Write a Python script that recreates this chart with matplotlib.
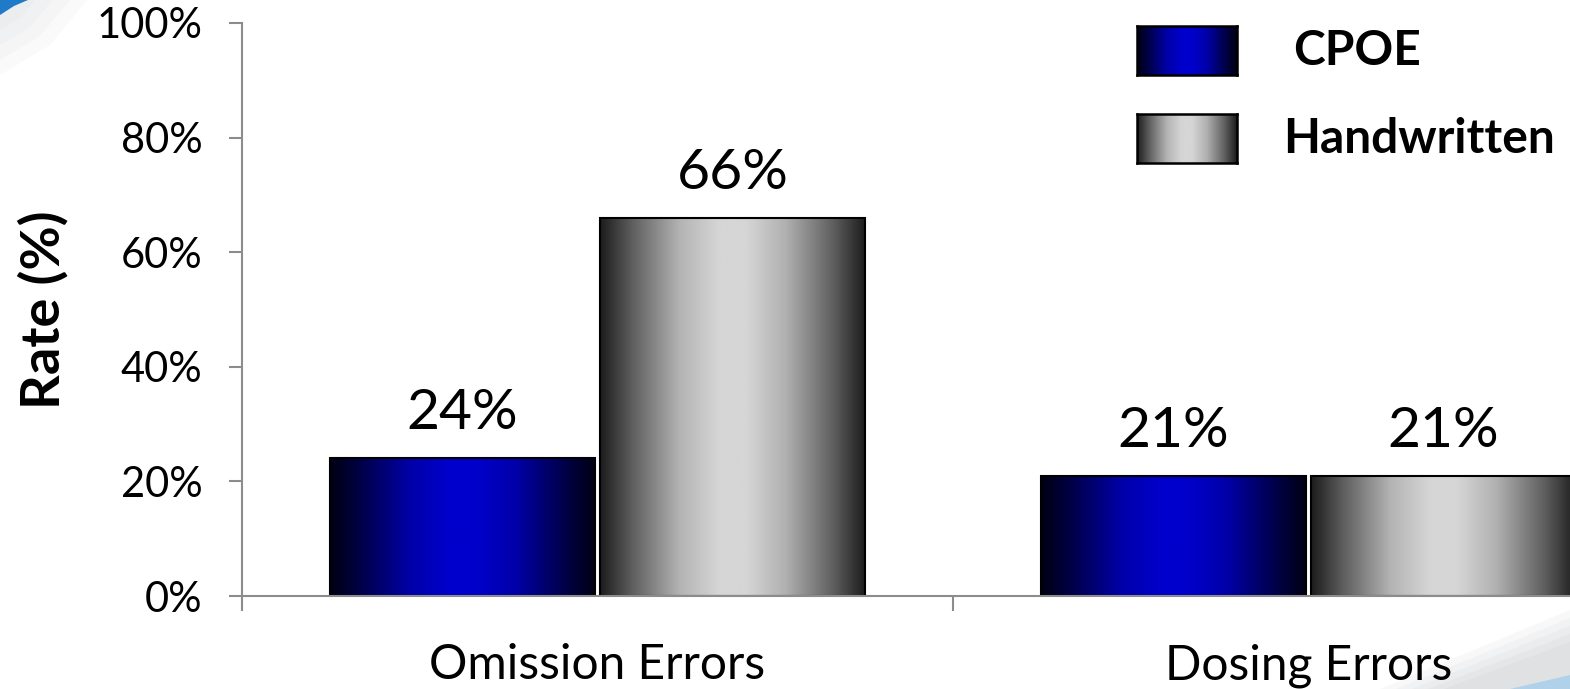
import numpy as np
from matplotlib import pyplot as plt
from matplotlib.colors import LinearSegmentedColormap
from matplotlib.patches import Polygon

plt.rcParams['font.family'] = ['Lato', 'DejaVu Sans']

# Chart data
categories = ['Omission Errors', 'Dosing Errors']
series_names = ['CPOE', 'Handwritten']
cpoe = [24, 21]
handwritten = [66, 21]
y_ticks = [0, 20, 40, 60, 80, 100]

# Horizontal shading for the bars (dark edges, bright centre)
blue_cmap = LinearSegmentedColormap.from_list('blue_bar', [
    (0.0, '#000012'), (0.12, '#00004a'), (0.3, '#0000a8'), (0.45, '#0000cc'),
    (0.55, '#0000cc'), (0.7, '#0000a8'), (0.88, '#00004a'), (1.0, '#000012')])
gray_cmap = LinearSegmentedColormap.from_list('gray_bar', [
    (0.0, '#1c1c1c'), (0.12, '#5e5e5e'), (0.3, '#b4b4b4'), (0.45, '#d6d6d6'),
    (0.55, '#d6d6d6'), (0.7, '#b0b0b0'), (0.88, '#5e5e5e'), (1.0, '#1c1c1c')])
GRAD = np.linspace(0, 1, 256).reshape(1, -1)


def shade_bars(ax, rects, cmap):
    for r in rects:
        x, y = r.get_xy()
        w, h = r.get_width(), r.get_height()
        im = ax.imshow(GRAD, cmap=cmap, extent=[x, x + w, y, y + h],
                       aspect='auto', interpolation='bicubic', zorder=1)
        im.set_clip_path(r)


fig = plt.figure(figsize=(15.7, 6.89), dpi=100)

# slide decoration behind the chart
bg = fig.add_axes([0, 0, 1, 1], zorder=-5)
bg.set_xlim(0, 1570)
bg.set_ylim(689, 0)
bg.axis('off')
for k in range(4):
    s = 1 + k * 0.5
    bg.add_patch(Polygon([(0, 0), (35 * s, 0), (20 * s, 18 * s), (0, 30 * s)],
                         closed=True, color='#a4a8ae', alpha=0.05, lw=0))
bg.add_patch(Polygon([(0, 0), (28, 0), (14, 6), (0, 15)], closed=True,
                     color='#1f7ac8', lw=0))
for k in range(5):
    d = k * 8
    bg.add_patch(Polygon([(1380 + d * 2, 689), (1570, 610 + d), (1570, 689)],
                         closed=True, color='#a0a4aa', alpha=0.07, lw=0))
bg.add_patch(Polygon([(1510, 689), (1570, 675), (1570, 689)], closed=True,
                     color='#8fc8f0', alpha=0.6, lw=0))

ax = fig.add_axes([242 / 1570, 93 / 689, 1422 / 1570, 573 / 689])
ax.set_facecolor('none')

x = np.arange(len(categories))
width = 0.373
offset = 0.19
bars_c = ax.bar(x - offset, cpoe, width, facecolor='none', edgecolor='black',
                linewidth=1.5, zorder=2)
bars_h = ax.bar(x + offset, handwritten, width, facecolor='none',
                edgecolor='black', linewidth=1.5, zorder=2)
shade_bars(ax, bars_c, blue_cmap)
shade_bars(ax, bars_h, gray_cmap)

for rects, vals in [(bars_c, cpoe), (bars_h, handwritten)]:
    for r, v in zip(rects, vals):
        ax.annotate(f'{v}%', (r.get_x() + r.get_width() / 2, v),
                    xytext=(0, 21), textcoords='offset points',
                    ha='center', va='baseline', fontsize=41)

ax.set_xlim(-0.5, len(categories) - 0.5)
ax.set_ylim(0, 100)

axis_gray = '#8c8c8c'
for side in ['top', 'right']:
    ax.spines[side].set_visible(False)
for side in ['left', 'bottom']:
    ax.spines[side].set_color(axis_gray)
    ax.spines[side].set_linewidth(1.5)

ax.set_yticks(y_ticks)
ax.set_yticklabels([f'{t}%' for t in y_ticks])
ax.tick_params(axis='y', length=9.5, width=1.5, color=axis_gray,
               labelsize=30, pad=19)
ax.set_xticks(x)
ax.set_xticklabels(categories)
ax.set_xticks(np.arange(len(categories) + 1) - 0.5, minor=True)
ax.tick_params(axis='x', which='major', length=0, labelsize=34.5, pad=34)
ax.tick_params(axis='x', which='minor', length=11, width=1.5, color=axis_gray)

ax.set_ylabel('Rate (%)', fontsize=39, fontweight='bold', labelpad=20)

# legend swatches drawn in figure pixels
legend_items = [(series_names[0], blue_cmap, 26, 1293),
                (series_names[1], gray_cmap, 114, 1283)]
for name, cmap, top, tx in legend_items:
    sw = fig.add_axes([1137 / 1570, 1 - (top + 49) / 689, 100 / 1570, 49 / 689])
    sw.imshow(GRAD, cmap=cmap, aspect='auto', interpolation='bicubic')
    sw.set_xticks([])
    sw.set_yticks([])
    for sp in sw.spines.values():
        sp.set_linewidth(1.8)
        sp.set_color('black')
    fig.text(tx / 1570, 1 - (top + 25) / 689, name, fontsize=34.5,
             fontweight='bold', ha='left', va='center')

fig.savefig('out.png', dpi=100)
